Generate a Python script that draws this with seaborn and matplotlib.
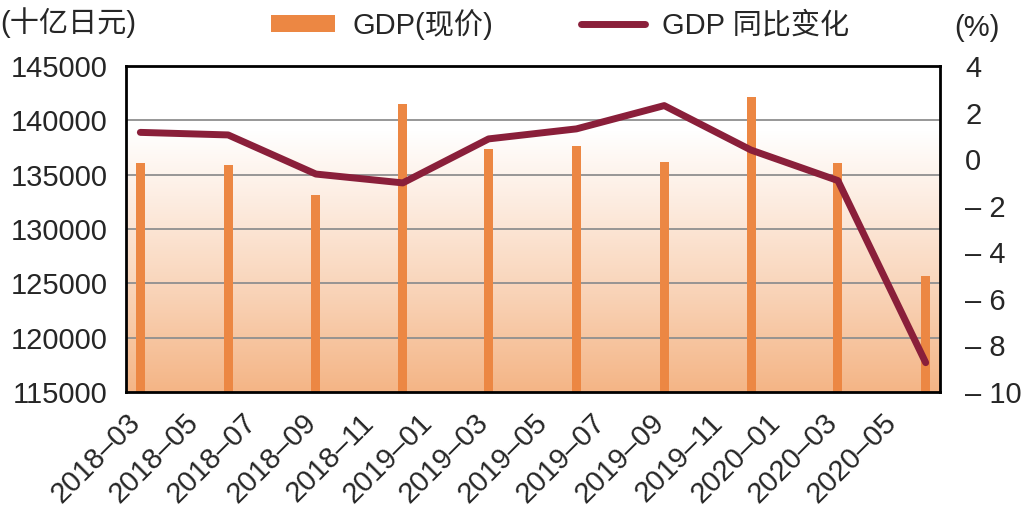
import numpy as np
import pandas as pd
import matplotlib
matplotlib.use("Agg")
import matplotlib.pyplot as plt
import matplotlib.dates as mdates
from matplotlib.colors import LinearSegmentedColormap
from matplotlib.lines import Line2D
from matplotlib.patches import Patch
import seaborn as sns

sns.set_style("white")
plt.rcParams['font.family'] = ['Liberation Sans', 'Noto Sans CJK SC']

# Quarterly data (plotted mid-month of the quarter's last month)
quarter_dates = ['2018-03-16', '2018-06-16', '2018-09-16', '2018-12-16',
                 '2019-03-16', '2019-06-16', '2019-09-16', '2019-12-16',
                 '2020-03-16', '2020-06-16']
gdp_nominal = [136050, 135870, 133130, 141500, 137360,
               137640, 136200, 142150, 136050, 125680]   # 十亿日元
gdp_yoy = [1.15, 1.04, -0.64, -1.02, 0.87, 1.3, 2.3, 0.39, -0.92, -8.74]  # %

left_ticks = [115000, 120000, 125000, 130000, 135000, 140000, 145000]
right_ticks = [-10, -8, -6, -4, -2, 0, 2, 4]

bar_color = '#EC8743'
line_color = '#8A1F3A'

df = pd.DataFrame({'date': pd.to_datetime(quarter_dates),
                   'gdp': gdp_nominal, 'yoy': gdp_yoy})
df['x'] = mdates.date2num(df['date'])

fig = plt.figure(figsize=(10.28, 5.07), dpi=100)
ax = fig.add_axes([0.1226, 0.2268, 0.7918, 0.643])

x0 = mdates.date2num(pd.Timestamp('2018-03-01'))
x1 = mdates.date2num(pd.Timestamp('2020-07-01'))

# background gradient: white at top -> light orange at bottom
cmap = LinearSegmentedColormap.from_list(
    'bg', [(0.0, '#F4B586'), (0.3, '#F9D3B7'), (0.6, '#FDEEE3'),
           (0.8, '#FFFFFF'), (1.0, '#FFFFFF')])
grad = np.linspace(0, 1, 256).reshape(-1, 1)
ax.imshow(grad, extent=[x0, x1, left_ticks[0], left_ticks[-1]], origin='lower',
          aspect='auto', cmap=cmap, zorder=0)

for v in left_ticks[1:-1]:
    ax.axhline(v, color='#8F8F8F', lw=1.3, zorder=1)

sns.barplot(data=df, x='x', y='gdp', native_scale=True, width=0.105,
            color=bar_color, saturation=1, errorbar=None, linewidth=0,
            ax=ax, zorder=2)

ax.set_xlim(x0, x1)
ax.set_ylim(left_ticks[0], left_ticks[-1])
ax.set_yticks(left_ticks)
ax.set_yticklabels([str(v) for v in left_ticks])
ax.set_xlabel('')
ax.set_ylabel('')

ax.xaxis.set_major_locator(mdates.MonthLocator(bymonth=[1, 3, 5, 7, 9, 11]))
last = pd.Timestamp('2020-06-01')
ax.xaxis.set_major_formatter(plt.FuncFormatter(
    lambda v, p: '' if mdates.num2date(v).replace(tzinfo=None) > last
    else mdates.num2date(v).strftime('%Y–%m')))
plt.setp(ax.get_xticklabels(), rotation=45, ha='right', rotation_mode='anchor')
ax.tick_params(axis='x', length=8, width=2, color='black', labelsize=21, pad=4)
ax.tick_params(axis='y', length=0, labelsize=21, pad=13)

for s in ax.spines.values():
    s.set_color('black')
    s.set_linewidth(2)

ax2 = ax.twinx()
sns.lineplot(data=df, x='x', y='yoy', ax=ax2, color=line_color, linewidth=5,
             solid_capstyle='round', solid_joinstyle='round')
ax2.set_ylim(right_ticks[0], right_ticks[-1])
ax2.set_yticks(right_ticks)
ax2.set_yticklabels([('– ' + str(-v)) if v < 0 else str(v) for v in right_ticks])
ax2.tick_params(axis='y', length=0, labelsize=21, pad=18)
ax2.set_xlabel('')
ax2.set_ylabel('')
for s in ax2.spines.values():
    s.set_visible(False)

fig.text(0.0, 0.955, '(十亿日元)', fontsize=21, ha='left', va='center')
fig.text(0.928, 0.945, '(%)', fontsize=21, ha='left', va='center')

handles = [Patch(facecolor=bar_color, edgecolor='none'),
           Line2D([0], [0], color=line_color, lw=5, solid_capstyle='round')]
fig.legend(handles, ['GDP(现价)', 'GDP 同比变化'], loc='center',
           bbox_to_anchor=(0.545, 0.952), ncol=2, frameon=False, fontsize=21,
           handlelength=2.2, handleheight=0.55, handletextpad=0.6, columnspacing=3.0)

fig.savefig('out.png', dpi=100)
